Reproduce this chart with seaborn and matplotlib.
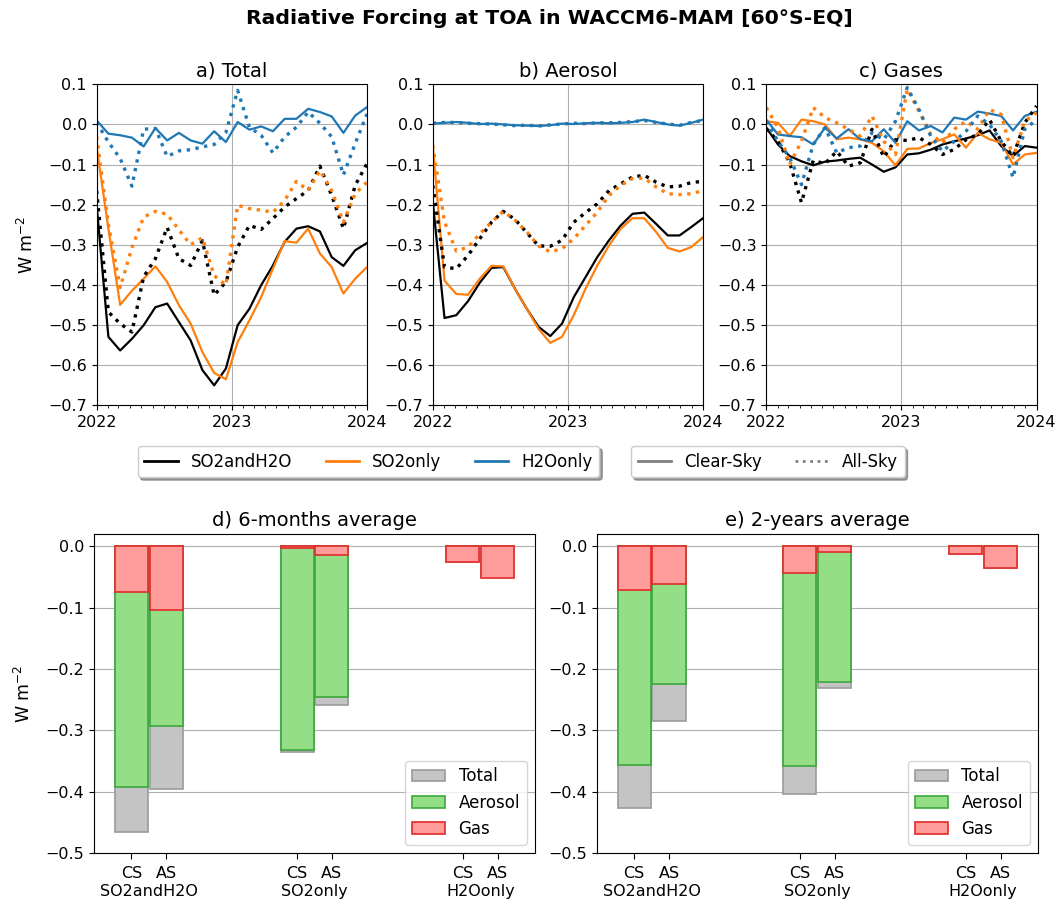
import numpy as np
import pandas as pd
import matplotlib
matplotlib.use('Agg')
import matplotlib.pyplot as plt
import matplotlib.dates as mdates
from matplotlib.lines import Line2D
from matplotlib.patches import Patch
from matplotlib.ticker import MultipleLocator
import seaborn as sns

# ==================== data ====================
exps = ['SO2andH2O', 'SO2only', 'H2Oonly']
skies = ['Clear-Sky', 'All-Sky']
# monthly means, evenly spread over 2022-2023
times = pd.date_range('2022-01-01', '2024-01-01', periods=24)

# a) Total
a_so2h2o_cs = [-0.202, -0.530, -0.564, -0.535, -0.501, -0.456, -0.447, -0.493, -0.539, -0.613, -0.651, -0.609,
               -0.501, -0.460, -0.401, -0.352, -0.293, -0.260, -0.254, -0.267, -0.331, -0.353, -0.314, -0.296]
a_so2_cs = [-0.056, -0.260, -0.450, -0.415, -0.385, -0.354, -0.393, -0.451, -0.497, -0.568, -0.620, -0.636,
            -0.543, -0.489, -0.431, -0.360, -0.291, -0.295, -0.260, -0.322, -0.356, -0.422, -0.385, -0.356]
a_h2o_cs = [0.010, -0.023, -0.027, -0.033, -0.055, -0.009, -0.040, -0.021, -0.040, -0.048, -0.017, -0.044,
            0.006, -0.013, -0.005, -0.017, 0.014, 0.014, 0.039, 0.031, 0.020, -0.021, 0.022, 0.043]
a_so2h2o_as = [-0.165, -0.468, -0.497, -0.518, -0.380, -0.335, -0.257, -0.335, -0.352, -0.290, -0.426, -0.393,
               -0.306, -0.252, -0.262, -0.235, -0.206, -0.185, -0.165, -0.104, -0.177, -0.260, -0.152, -0.098]
a_so2_as = [-0.030, -0.250, -0.407, -0.308, -0.231, -0.217, -0.224, -0.263, -0.300, -0.283, -0.377, -0.401,
            -0.202, -0.210, -0.214, -0.219, -0.190, -0.142, -0.165, -0.115, -0.165, -0.244, -0.173, -0.144]
a_h2o_as = [0.005, -0.044, -0.085, -0.154, -0.012, -0.010, -0.080, -0.066, -0.063, -0.056, -0.050, -0.020,
            0.085, -0.007, -0.027, -0.071, -0.031, -0.007, 0.031, 0.003, -0.031, -0.126, -0.048, 0.026]

# b) Aerosol
b_so2h2o_cs = [-0.192, -0.483, -0.476, -0.441, -0.395, -0.358, -0.356, -0.410, -0.460, -0.505, -0.528, -0.497,
               -0.431, -0.381, -0.331, -0.289, -0.252, -0.223, -0.220, -0.248, -0.277, -0.277, -0.256, -0.234]
b_so2_cs = [-0.052, -0.390, -0.423, -0.425, -0.385, -0.353, -0.354, -0.410, -0.460, -0.510, -0.545, -0.530,
            -0.476, -0.410, -0.352, -0.302, -0.260, -0.234, -0.234, -0.268, -0.308, -0.317, -0.306, -0.281]
b_h2o_cs = [0.002, 0.004, 0.006, 0.004, 0.001, 0.002, 0.000, -0.002, -0.003, -0.004, -0.002, 0.002,
            0.001, 0.003, 0.004, 0.003, 0.004, 0.006, 0.012, 0.006, 0.000, -0.003, 0.004, 0.012]
b_so2h2o_as = [-0.152, -0.356, -0.360, -0.327, -0.285, -0.244, -0.217, -0.237, -0.270, -0.303, -0.304, -0.289,
               -0.244, -0.220, -0.198, -0.165, -0.148, -0.131, -0.127, -0.144, -0.156, -0.154, -0.145, -0.142]
b_so2_as = [-0.052, -0.243, -0.316, -0.306, -0.273, -0.244, -0.217, -0.239, -0.268, -0.303, -0.318, -0.310,
            -0.285, -0.252, -0.219, -0.177, -0.152, -0.135, -0.134, -0.156, -0.173, -0.175, -0.173, -0.165]
b_h2o_as = [0.003, 0.005, 0.005, 0.003, 0.002, 0.001, -0.001, -0.003, -0.002, -0.004, -0.001, 0.001,
            0.003, 0.002, 0.004, 0.004, 0.005, 0.007, 0.010, 0.005, 0.001, -0.002, 0.005, 0.010]

# c) Gases
c_so2h2o_cs = [-0.008, -0.050, -0.079, -0.092, -0.102, -0.093, -0.090, -0.086, -0.083, -0.100, -0.118, -0.107,
               -0.075, -0.072, -0.063, -0.050, -0.042, -0.035, -0.027, -0.015, -0.054, -0.079, -0.054, -0.058]
c_so2_cs = [0.008, 0.004, -0.029, 0.012, 0.008, 0.000, -0.037, -0.033, -0.037, -0.046, -0.067, -0.102,
            -0.061, -0.060, -0.046, -0.037, -0.025, -0.058, -0.021, -0.037, -0.046, -0.100, -0.075, -0.071]
c_h2o_cs = [0.012, -0.025, -0.029, -0.032, -0.050, -0.008, -0.035, -0.012, -0.037, -0.042, -0.012, -0.046,
            0.008, -0.015, -0.004, -0.020, 0.017, 0.012, 0.032, 0.027, 0.021, -0.015, 0.021, 0.032]
c_so2h2o_as = [-0.010, -0.042, -0.096, -0.195, -0.090, -0.098, -0.067, -0.104, -0.096, -0.012, -0.082, -0.038,
               -0.040, -0.033, -0.050, -0.075, -0.062, -0.038, -0.025, 0.012, -0.042, -0.080, 0.004, 0.046]
c_so2_as = [0.042, -0.008, -0.100, -0.042, 0.042, 0.017, 0.004, -0.012, -0.029, 0.021, -0.042, -0.075,
            0.088, 0.033, -0.025, -0.046, -0.012, 0.008, -0.012, 0.037, 0.025, -0.083, 0.008, 0.029]
c_h2o_as = [0.008, -0.042, -0.083, -0.150, -0.050, -0.008, -0.071, -0.058, -0.054, -0.021, -0.038, 0.008,
            0.092, 0.037, -0.029, -0.067, -0.042, -0.017, 0.021, 0.000, -0.042, -0.133, -0.012, 0.012]

# d) 6-months average  (CS / AS per experiment)
d_total_cs = [-0.466, -0.336, -0.025]
d_total_as = [-0.396, -0.259, -0.050]
d_aer_cs = [-0.393, -0.332, 0.001]
d_aer_as = [-0.293, -0.246, 0.001]
d_gas_cs = [-0.074, -0.002, -0.026]
d_gas_as = [-0.104, -0.014, -0.051]

# e) 2-years average
e_total_cs = [-0.426, -0.404, -0.012]
e_total_as = [-0.285, -0.231, -0.035]
e_aer_cs = [-0.357, -0.358, 0.001]
e_aer_as = [-0.224, -0.222, 0.001]
e_gas_cs = [-0.072, -0.044, -0.012]
e_gas_as = [-0.062, -0.010, -0.036]

exp_colors = {'SO2andH2O': 'black', 'SO2only': 'tab:orange', 'H2Oonly': 'tab:blue'}
bar_style = {
    'total': ('#c4c4c4', '#9a9a9a', 'Total'),
    'aerosol': ('#95de88', '#3aa83a', 'Aerosol'),
    'gas': ('#ff9c9c', '#e52a2a', 'Gas'),
}


def long_df(series):
    frames = []
    for (exp, sky), vals in series.items():
        frames.append(pd.DataFrame({'time': times, 'rf': vals, 'exp': exp, 'sky': sky}))
    return pd.concat(frames, ignore_index=True)


panels = [
    ('a) Total', long_df({
        ('SO2andH2O', 'Clear-Sky'): a_so2h2o_cs, ('SO2only', 'Clear-Sky'): a_so2_cs, ('H2Oonly', 'Clear-Sky'): a_h2o_cs,
        ('SO2andH2O', 'All-Sky'): a_so2h2o_as, ('SO2only', 'All-Sky'): a_so2_as, ('H2Oonly', 'All-Sky'): a_h2o_as})),
    ('b) Aerosol', long_df({
        ('SO2andH2O', 'Clear-Sky'): b_so2h2o_cs, ('SO2only', 'Clear-Sky'): b_so2_cs, ('H2Oonly', 'Clear-Sky'): b_h2o_cs,
        ('SO2andH2O', 'All-Sky'): b_so2h2o_as, ('SO2only', 'All-Sky'): b_so2_as, ('H2Oonly', 'All-Sky'): b_h2o_as})),
    ('c) Gases', long_df({
        ('SO2andH2O', 'Clear-Sky'): c_so2h2o_cs, ('SO2only', 'Clear-Sky'): c_so2_cs, ('H2Oonly', 'Clear-Sky'): c_h2o_cs,
        ('SO2andH2O', 'All-Sky'): c_so2h2o_as, ('SO2only', 'All-Sky'): c_so2_as, ('H2Oonly', 'All-Sky'): c_h2o_as})),
]

bar_panels = [
    ('d) 6-months average', d_total_cs, d_total_as, d_aer_cs, d_aer_as, d_gas_cs, d_gas_as),
    ('e) 2-years average', e_total_cs, e_total_as, e_aer_cs, e_aer_as, e_gas_cs, e_gas_as),
]

# ==================== figure ====================
fig = plt.figure(figsize=(10.62, 9.07), dpi=100)
fig.suptitle('Radiative Forcing at TOA in WACCM6-MAM [60°S-EQ]', fontsize=14.7, fontweight='bold',
             x=0.517, y=0.99)

top_lefts = [0.091, 0.4075, 0.7215]
for k, (title, df) in enumerate(panels):
    ax = fig.add_axes([top_lefts[k], 0.5535, 0.2545, 0.3535])
    for sky, ls, lw in [('Clear-Sky', '-', 1.6), ('All-Sky', ':', 2.4)]:
        sns.lineplot(data=df[df['sky'] == sky], x='time', y='rf', hue='exp', hue_order=exps,
                     palette=exp_colors, linestyle=ls, linewidth=lw, legend=False,
                     estimator=None, sort=False, ax=ax)
    ax.set_xlim(pd.Timestamp('2022-01-01'), pd.Timestamp('2024-01-01'))
    ax.set_ylim(-0.7, 0.1)
    ax.yaxis.set_major_locator(MultipleLocator(0.1))
    ax.xaxis.set_major_locator(mdates.YearLocator())
    ax.xaxis.set_major_formatter(mdates.DateFormatter('%Y'))
    ax.xaxis.set_minor_locator(mdates.MonthLocator())
    ax.grid(True, which='major', color='#b0b0b0', linewidth=0.8)
    ax.set_axisbelow(True)
    ax.tick_params(labelsize=11.5)
    ax.set_title(title, fontsize=14)
    ax.set_xlabel('')
    ax.set_ylabel('W m$^{-2}$' if k == 0 else '', fontsize=12.5, labelpad=8)

# legends between the rows
exp_handles = [Line2D([], [], color=exp_colors[e], lw=2, label=e) for e in exps]
sky_handles = [Line2D([], [], color='gray', lw=2, ls='-', label='Clear-Sky'),
               Line2D([], [], color='gray', lw=2, ls=':', label='All-Sky')]
leg1 = fig.legend(handles=exp_handles, loc='center', bbox_to_anchor=(0.347, 0.491), ncol=3,
                  fontsize=12, shadow=True, columnspacing=2.0)
leg2 = fig.legend(handles=sky_handles, loc='center', bbox_to_anchor=(0.723, 0.491), ncol=2,
                  fontsize=12, shadow=True, columnspacing=2.0)

bottom_lefts = [0.0885, 0.562]
for k, (title, tot_cs, tot_as, aer_cs, aer_as, gas_cs, gas_as) in enumerate(bar_panels):
    ax = fig.add_axes([bottom_lefts[k], 0.0595, 0.4153, 0.3517])
    bdf = pd.DataFrame({
        'exp': exps * 2,
        'sky': ['CS'] * 3 + ['AS'] * 3,
        'total': tot_cs + tot_as,
        'aerosol': aer_cs + aer_as,
        'gas': gas_cs + gas_as,
    })
    for comp in ['total', 'aerosol', 'gas']:
        face, edge, _ = bar_style[comp]
        sns.barplot(data=bdf, x='exp', y=comp, hue='sky', order=exps, hue_order=['CS', 'AS'],
                    palette={'CS': face, 'AS': face}, saturation=1, width=0.42, gap=0.05,
                    edgecolor=edge, linewidth=1.2, errorbar=None, legend=False, ax=ax)
    centers = sorted({round(p.get_x() + p.get_width() / 2, 4) for p in ax.patches})
    ax.set_xticks(centers)
    ax.set_xticklabels(['CS', 'AS'] * 3)
    ax.set_xticks(range(len(exps)), minor=True)
    ax.set_xticklabels(exps, minor=True)
    ax.tick_params(labelsize=11.5)
    ax.tick_params(axis='x', which='major', length=4.5, pad=5)
    ax.tick_params(axis='x', which='minor', length=0, pad=22, labelsize=11.5)
    ax.set_xlim(-0.33, 2.33)
    ax.set_ylim(-0.5, 0.02)
    ax.yaxis.set_major_locator(MultipleLocator(0.1))
    ax.grid(True, axis='y', color='#b0b0b0', linewidth=0.8)
    ax.set_axisbelow(True)
    ax.set_title(title, fontsize=14)
    ax.set_xlabel('')
    ax.set_ylabel('W m$^{-2}$' if k == 0 else '', fontsize=12.5, labelpad=8)
    handles = [Patch(facecolor=bar_style[c][0], edgecolor=bar_style[c][1], lw=1.2, label=bar_style[c][2])
               for c in ['total', 'aerosol', 'gas']]
    ax.legend(handles=handles, loc='lower right', fontsize=12)

fig.savefig('out.png', dpi=100)
